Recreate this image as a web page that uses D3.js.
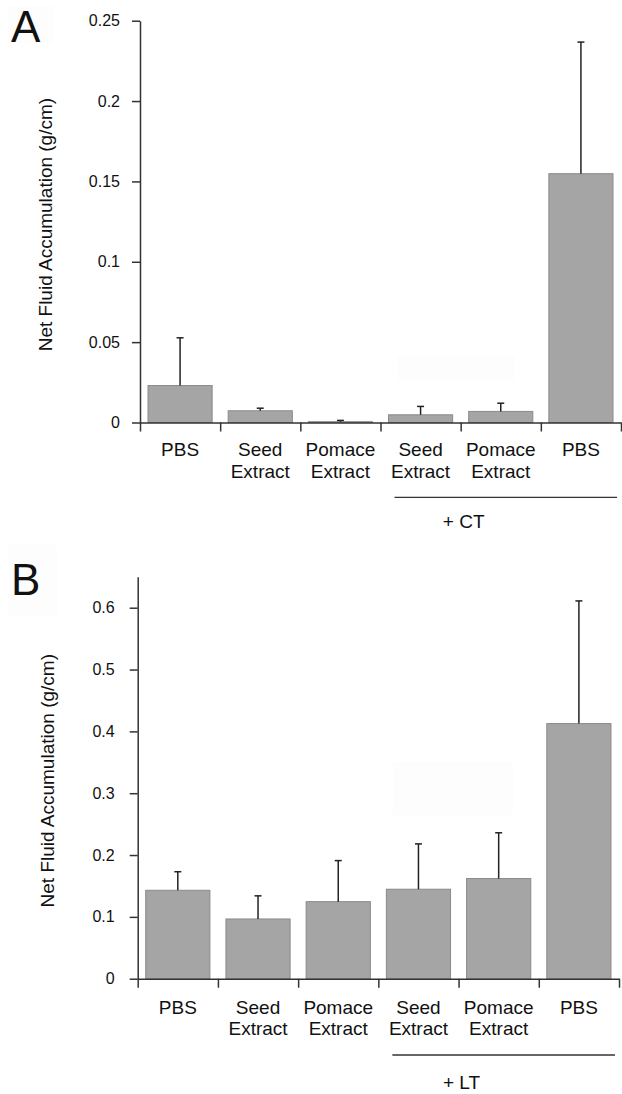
<!DOCTYPE html>
<html>
<head>
<meta charset="utf-8">
<script src="https://cdn.jsdelivr.net/npm/d3@7"></script>
<style>
  html, body { margin: 0; padding: 0; background: #fff; }
  svg { display: block; }
  text { font-family: "Liberation Sans", Arial, sans-serif; fill: #111; }
</style>
</head>
<body>
<svg id="chart" width="622" height="1094"></svg>
<script>
// ---- Data ----
const categories = ["PBS", "Seed Extract", "Pomace Extract", "Seed Extract", "Pomace Extract", "PBS"];
const categoryLines = [["PBS"], ["Seed", "Extract"], ["Pomace", "Extract"], ["Seed", "Extract"], ["Pomace", "Extract"], ["PBS"]];

const meansCT = [0.023, 0.0073, 0.0005, 0.0048, 0.0069, 0.1548];
const semCT   = [0.0297, 0.0016, 0.0008, 0.0052, 0.0051, 0.0819];
const ticksCT = [0, 0.05, 0.1, 0.15, 0.2, 0.25];
const tickLabelsCT = ["0", "0.05", "0.1", "0.15", "0.2", "0.25"];

const meansLT = [0.143, 0.0966, 0.1246, 0.1447, 0.162, 0.4126];
const semLT   = [0.030, 0.0374, 0.0664, 0.0733, 0.074, 0.1984];
const ticksLT = [0, 0.1, 0.2, 0.3, 0.4, 0.5, 0.6];
const tickLabelsLT = ["0", "0.1", "0.2", "0.3", "0.4", "0.5", "0.6"];

const yTitle = "Net Fluid Accumulation (g/cm)";

const svg = d3.select("#chart");

function panel(opts) {
  const g = svg.append("g");
  const { x0, x1, yBase, yTopPx, yMax, means, sem, ticks, tickLabels, letter, letterY, group,
          labelY1, lineGap, groupLineY, groupTextY, titleX, faint } = opts;

  // faint artifact boxes
  faint.forEach(f => g.append("rect").attr("x", f[0]).attr("y", f[1]).attr("width", f[2]).attr("height", f[3]).attr("fill", "#fdfdfd"));

  const y = d3.scaleLinear().domain([0, yMax]).range([yBase, yTopPx]);
  const xb = d3.scaleBand().domain(d3.range(categories.length)).range([x0, x1]).paddingInner(0.2).paddingOuter(0.1);
  const xEdge = d3.scaleLinear().domain([0, categories.length]).range([x0, x1]);

  // bars
  g.selectAll("rect.bar").data(means).join("rect")
    .attr("class", "bar")
    .attr("x", (d, i) => xb(i))
    .attr("width", xb.bandwidth())
    .attr("y", d => y(d))
    .attr("height", d => yBase - y(d))
    .attr("fill", "#a5a5a5")
    .attr("stroke", "#8a8a8a")
    .attr("stroke-width", 1);

  // error bars (upper only)
  const eg = g.append("g").attr("stroke", "#222").attr("stroke-width", 1.5);
  means.forEach((m, i) => {
    const cx = xb(i) + xb.bandwidth() / 2;
    eg.append("line").attr("x1", cx).attr("x2", cx).attr("y1", y(m)).attr("y2", y(m + sem[i]));
    eg.append("line").attr("x1", cx - 3.5).attr("x2", cx + 3.5).attr("y1", y(m + sem[i])).attr("y2", y(m + sem[i]));
  });

  // y axis
  const yAxis = d3.axisLeft(y).tickValues(ticks).tickFormat((d, i) => tickLabels[i]).tickSizeInner(8).tickSizeOuter(0).tickPadding(opts.tickPad);
  const ya = g.append("g").attr("transform", `translate(${x0},0)`).call(yAxis);
  ya.select(".domain").attr("stroke", "#333").attr("stroke-width", 1.5);
  ya.selectAll(".tick line").attr("stroke", "#333").attr("stroke-width", 1.5);
  ya.selectAll(".tick text").style("font-size", "16px").style("font-family", "'Liberation Sans', Arial, sans-serif").attr("fill", "#111");

  // x axis with boundary ticks
  const xAxis = d3.axisBottom(xEdge).tickValues(d3.range(categories.length + 1)).tickFormat("").tickSizeInner(9).tickSizeOuter(0);
  const xa = g.append("g").attr("transform", `translate(0,${yBase})`).call(xAxis);
  xa.select(".domain").attr("stroke", "#333").attr("stroke-width", 1.5);
  xa.selectAll(".tick line").attr("stroke", "#333").attr("stroke-width", 1.5);

  // category labels
  categoryLines.forEach((lines, i) => {
    const cx = xb(i) + xb.bandwidth() / 2;
    const t = g.append("text").attr("text-anchor", "middle").style("font-size", "19px");
    lines.forEach((ln, j) => {
      t.append("tspan").attr("x", cx).attr("y", labelY1 + j * lineGap).text(ln);
    });
  });

  // group bracket line
  const gx1 = xb(3) + 6, gx2 = x1 - 4;
  g.append("line").attr("x1", gx1).attr("x2", gx2).attr("y1", groupLineY).attr("y2", groupLineY)
    .attr("stroke", "#333").attr("stroke-width", 1.3);
  g.append("text").attr("x", (xb(3) + xb(4) + xb.bandwidth()) / 2 + 3).attr("y", groupTextY)
    .attr("text-anchor", "middle").style("font-size", "19px").text(group);

  // y title
  g.append("text")
    .attr("transform", `translate(${titleX},${(yBase + yTopPx) / 2 + 3}) rotate(-90)`)
    .attr("text-anchor", "middle").style("font-size", "19px").text(yTitle);

  // panel letter
  g.append("text").attr("x", 11).attr("y", letterY).style("font-size", "44px").text(letter);
}

panel({
  x0: 140, x1: 621, yBase: 422.5, yTopPx: 20.7, yMax: 0.25,
  means: meansCT, sem: semCT, ticks: ticksCT, tickLabels: tickLabelsCT,
  letter: "A", letterY: 42, group: "+ CT",
  labelY1: 456, lineGap: 21.7, groupLineY: 497.3, groupTextY: 527.7, titleX: 52, tickPad: 12,
  faint: [[8, 6, 45, 37], [397, 356, 118, 23]]
});

panel({
  x0: 137.7, x1: 619, yBase: 978.7, yTopPx: 576.8, yMax: 0.65,
  means: meansLT, sem: semLT, ticks: ticksLT, tickLabels: tickLabelsLT,
  letter: "B", letterY: 595, group: "+ LT",
  labelY1: 1013.5, lineGap: 21.7, groupLineY: 1055, groupTextY: 1088.5, titleX: 54, tickPad: 15,
  faint: [[8, 545, 49, 72], [393, 762, 120, 53]]
});
</script>
</body>
</html>
